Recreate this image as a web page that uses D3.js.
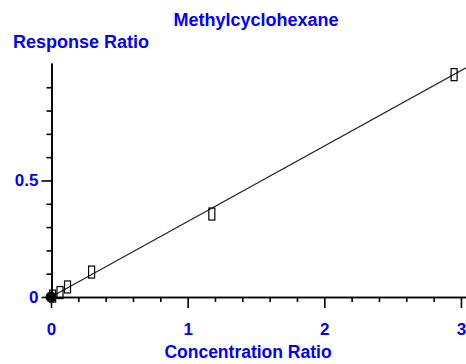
<!DOCTYPE html>
<html>
<head>
<meta charset="utf-8">
<script src="https://cdn.jsdelivr.net/npm/d3@7"></script>
<style>
  body { margin: 0; background: #fff; }
  text { font-family: "Liberation Sans", Arial, sans-serif; font-weight: bold; fill: #0000ff; }
</style>
</head>
<body>
<svg id="drawing_region"></svg>
<script>
// calibration points (concentration ratio, response ratio)
const concRatio = [0.012, 0.066, 0.121, 0.297, 1.177, 2.95];
const respRatio = [0.004, 0.019, 0.043, 0.107, 0.356, 0.954];
// fitted curve ends
const fitX = [0, 3.037];
const fitY = [0, 0.983];
// origin point
const originX = [0];
const originY = [0];
const xMajorTicks = [0, 1, 2, 3];
const xMinorTicks = [0.2, 0.4, 0.6, 0.8, 1.2, 1.4, 1.6, 1.8, 2.2, 2.4, 2.6, 2.8];
const yMajorTicks = [0, 0.5];
const yMinorTicks = [0.1, 0.2, 0.3, 0.4, 0.6, 0.7, 0.8, 0.9];

const width = 466, height = 364;
const svg = d3.select('#drawing_region')
    .attr('width', width)
    .attr('height', height);

const xscale = d3.scaleLinear().domain([0, 3.037]).range([51, 466]);
const yscale = d3.scaleLinear().domain([0, 1.004]).range([297, 63]);

// minor ticks (no labels)
const xminor = d3.axisBottom(xscale).tickValues(xMinorTicks).tickSize(5).tickSizeOuter(0).tickFormat('');
const xmajor = d3.axisBottom(xscale).tickValues(xMajorTicks).tickSize(11).tickSizeOuter(0)
    .tickPadding(15).tickFormat(d3.format('d'));
const yminor = d3.axisLeft(yscale).tickValues(yMinorTicks).tickSize(5).tickSizeOuter(0).tickFormat('');
const ymajor = d3.axisLeft(yscale).tickValues(yMajorTicks).tickSize(10).tickSizeOuter(0)
    .tickPadding(3).tickFormat(d => d === 0 ? '0' : d3.format('.1f')(d));

function styleAxis(g) {
    g.selectAll('path, line').attr('stroke', '#000').attr('stroke-width', 1.6);
    g.selectAll('text').attr('font-size', '17px').attr('fill', '#0000ff')
        .attr('font-family', '"Liberation Sans", Arial, sans-serif').attr('font-weight', 'bold');
}

svg.append('g').attr('transform', 'translate(0,297)').call(xminor).call(styleAxis);
svg.append('g').attr('transform', 'translate(0,297)').call(xmajor).call(styleAxis);
svg.append('g').attr('transform', 'translate(51.5,0)').call(yminor).call(styleAxis);
svg.append('g').attr('transform', 'translate(51.5,0)').call(ymajor).call(styleAxis);

// fitted line
svg.append('path')
    .datum(fitX.map((x, i) => [x, fitY[i]]))
    .attr('fill', 'none')
    .attr('stroke', '#222')
    .attr('stroke-width', 1.2)
    .attr('d', d3.line().x(d => xscale(d[0])).y(d => yscale(d[1])));

// points as tall open rectangles
svg.selectAll('rect.pt')
    .data(concRatio.map((x, i) => ({x: x, y: respRatio[i]})))
    .enter()
    .append('rect')
    .attr('class', 'pt')
    .attr('x', d => xscale(d.x) - 3)
    .attr('y', d => yscale(d.y) - 6)
    .attr('width', 6)
    .attr('height', 12)
    .attr('fill', 'none')
    .attr('stroke', '#000')
    .attr('stroke-width', 1.2);

svg.selectAll('circle.origin')
    .data(originX.map((x, i) => ({x: x, y: originY[i]})))
    .enter()
    .append('circle')
    .attr('cx', d => xscale(d.x))
    .attr('cy', d => yscale(d.y))
    .attr('r', 5.5)
    .attr('fill', '#000');

// titles
svg.append('text')
    .attr('x', 256).attr('y', 26)
    .attr('text-anchor', 'middle')
    .attr('font-size', '18px')
    .text('Methylcyclohexane');

svg.append('text')
    .attr('x', 13).attr('y', 48)
    .attr('font-size', '18px')
    .text('Response Ratio');

svg.append('text')
    .attr('x', 248).attr('y', 358)
    .attr('text-anchor', 'middle')
    .attr('font-size', '17.5px')
    .text('Concentration Ratio');
</script>
</body>
</html>
